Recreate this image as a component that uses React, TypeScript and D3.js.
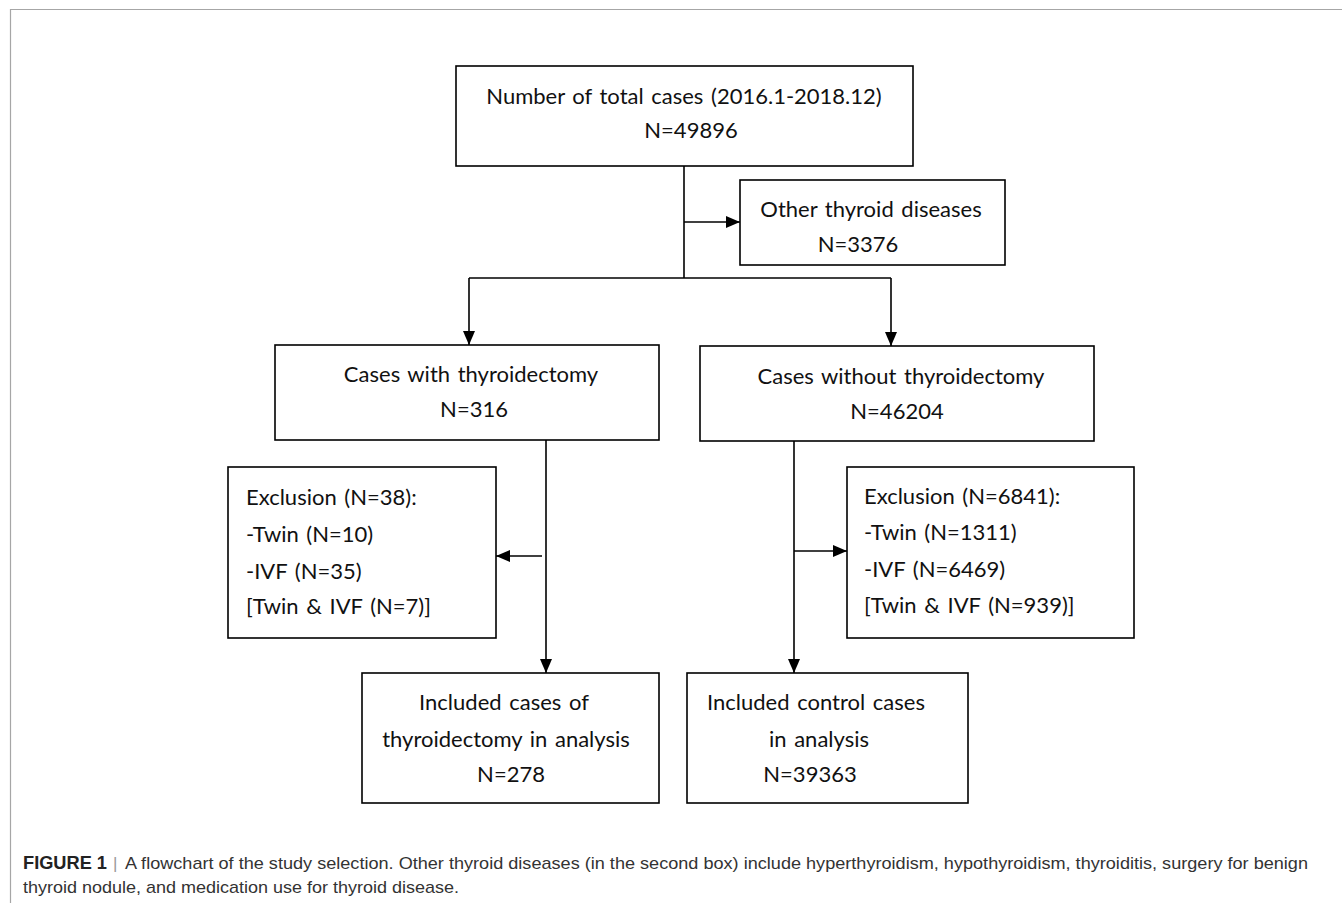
import React, { useEffect, useRef } from "react";
import * as d3 from "d3";

// Box texts (content only)
const boxIds = ["total", "other", "withT", "withoutT", "exclL", "exclR", "inclL", "inclR"];
const boxLines: string[][] = [
  ["Number of total cases (2016.1-2018.12)", "N=49896"],
  ["Other thyroid diseases", "N=3376"],
  ["Cases with thyroidectomy", "N=316"],
  ["Cases without thyroidectomy", "N=46204"],
  ["Exclusion (N=38):", "-Twin (N=10)", "-IVF (N=35)", "[Twin & IVF (N=7)]"],
  ["Exclusion (N=6841):", "-Twin (N=1311)", "-IVF (N=6469)", "[Twin & IVF (N=939)]"],
  ["Included cases of", "thyroidectomy in analysis", "N=278"],
  ["Included control cases", "in analysis", "N=39363"],
];
const captionBold = "FIGURE 1";
const captionLines = [
  "A flowchart of the study selection. Other thyroid diseases (in the second box) include hyperthyroidism, hypothyroidism, thyroiditis, surgery for benign",
  "thyroid nodule, and medication use for thyroid disease.",
];

// Layout (page pixels)
type Box = { x: number; y: number; w: number; h: number; align: "middle" | "start"; tx: number[]; ty: number[] };
const layout: Record<string, Box> = {
  total: { x: 456, y: 66, w: 457, h: 100, align: "middle", tx: [684, 691], ty: [96, 130] },
  other: { x: 740, y: 180, w: 265, h: 85, align: "middle", tx: [871, 858], ty: [209, 244] },
  withT: { x: 275, y: 345, w: 384, h: 95, align: "middle", tx: [471, 474], ty: [374, 409] },
  withoutT: { x: 700, y: 346, w: 394, h: 95, align: "middle", tx: [901, 897], ty: [376, 411] },
  exclL: { x: 228, y: 467, w: 268, h: 171, align: "start", tx: [246, 246, 246, 246], ty: [497, 534, 571, 606] },
  exclR: { x: 847, y: 467, w: 287, h: 171, align: "start", tx: [864, 864, 864, 864], ty: [496, 532, 569, 605] },
  inclL: { x: 362, y: 673, w: 297, h: 130, align: "middle", tx: [504, 506, 511], ty: [702, 739, 774] },
  inclR: { x: 687, y: 673, w: 281, h: 130, align: "middle", tx: [816, 819, 810], ty: [702, 739, 774] },
};

// Connectors: [points], arrow at end?
const connectors: { pts: [number, number][]; arrow: boolean }[] = [
  { pts: [[684, 166], [684, 278]], arrow: false },
  { pts: [[684, 222], [740, 222]], arrow: true },
  { pts: [[469, 278], [891, 278]], arrow: false },
  { pts: [[469, 278], [469, 345]], arrow: true },
  { pts: [[891, 278], [891, 346]], arrow: true },
  { pts: [[546, 440], [546, 673]], arrow: true },
  { pts: [[542, 556], [496, 556]], arrow: true },
  { pts: [[794, 441], [794, 673]], arrow: true },
  { pts: [[794, 551], [847, 551]], arrow: true },
];

const W = 1342;
const H = 903;
const boxFont = "Lato, Carlito, Calibri, 'Open Sans', sans-serif";

const App: React.FC = () => {
  const svgRef = useRef<SVGSVGElement>(null);

  useEffect(() => {
    if (!svgRef.current) return;
    const svg = d3.select(svgRef.current);
    svg.selectAll("*").remove();

    svg.append("rect").attr("width", W).attr("height", H).attr("fill", "#ffffff");

    // figure frame (top + left)
    svg
      .append("path")
      .attr("d", `M10.5,${H}V9.5H${W}`)
      .attr("fill", "none")
      .attr("stroke", "#a6a6a6")
      .attr("stroke-width", 1.2);

    const defs = svg.append("defs");
    defs
      .append("marker")
      .attr("id", "arrow")
      .attr("viewBox", "0 0 14 12")
      .attr("refX", 14)
      .attr("refY", 6)
      .attr("markerWidth", 14)
      .attr("markerHeight", 12)
      .attr("markerUnits", "userSpaceOnUse")
      .attr("orient", "auto")
      .append("path")
      .attr("d", "M0,0L14,6L0,12Z")
      .attr("fill", "#000");

    const line = d3.line<[number, number]>();

    svg
      .append("g")
      .selectAll("path")
      .data(connectors)
      .enter()
      .append("path")
      .attr("d", (d) => line(d.pts))
      .attr("fill", "none")
      .attr("stroke", "#000")
      .attr("stroke-width", 1.6)
      .attr("marker-end", (d) => (d.arrow ? "url(#arrow)" : null));

    // Boxes
    boxIds.forEach((id, i) => {
      const b = layout[id];
      const g = svg.append("g");
      g.append("rect")
        .attr("x", b.x)
        .attr("y", b.y)
        .attr("width", b.w)
        .attr("height", b.h)
        .attr("fill", "#fff")
        .attr("stroke", "#000")
        .attr("stroke-width", 1.6);

      g.selectAll("text")
        .data(boxLines[i])
        .enter()
        .append("text")
        .attr("x", (_, j) => b.tx[j])
        .attr("y", (_, j) => b.ty[j] + 7.5)
        .attr("text-anchor", b.align)
        .attr("font-family", boxFont)
        .attr("font-size", "22px")
        .attr("word-spacing", "2px")
        .attr("fill", "#111")
        .text((d) => d);
    });

    // Caption
    const cap = svg.append("g").attr("font-family", "'Liberation Sans Narrow', 'Liberation Sans', Arial, sans-serif");
    cap
      .append("text")
      .attr("x", 23)
      .attr("y", 869)
      .attr("font-size", "18px")
      .attr("font-weight", "bold")
      .attr("fill", "#222")
      .attr("textLength", 84)
      .attr("lengthAdjust", "spacingAndGlyphs")
      .text(captionBold);
    cap
      .append("text")
      .attr("x", 113)
      .attr("y", 869)
      .attr("font-size", "17px")
      .attr("fill", "#999")
      .text("|");
    cap
      .selectAll("text.cl")
      .data(captionLines)
      .enter()
      .append("text")
      .attr("class", "cl")
      .attr("x", (_, i) => (i === 0 ? 125 : 23))
      .attr("y", (_, i) => (i === 0 ? 869 : 893))
      .attr("font-size", "17px")
      .attr("fill", "#333")
      .attr("textLength", (_, i) => (i === 0 ? 1183 : 436))
      .attr("lengthAdjust", "spacingAndGlyphs")
      .text((d) => d);
  }, []);

  return (
    <svg
      ref={svgRef}
      width={W}
      height={H}
      style={{ position: "absolute", left: 0, top: 0, display: "block" }}
    />
  );
};

export default App;
